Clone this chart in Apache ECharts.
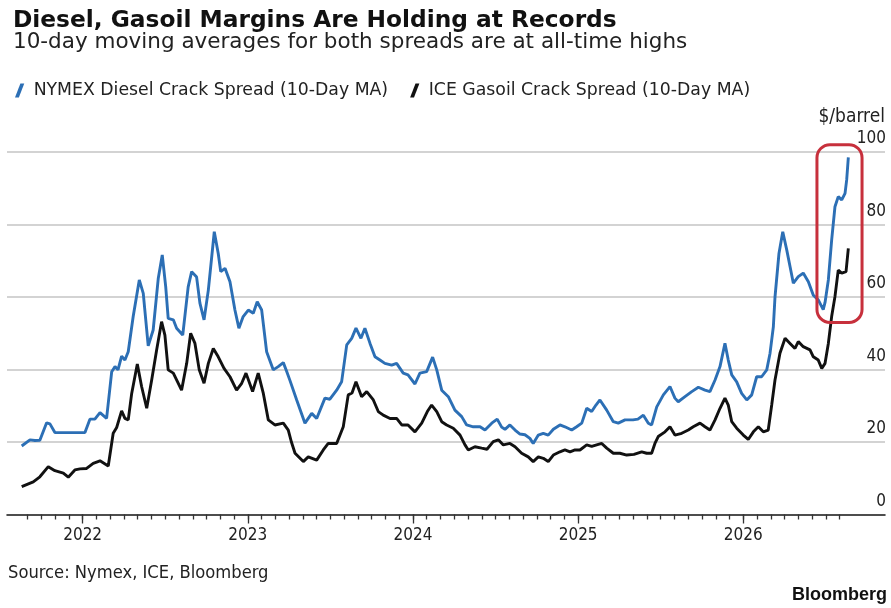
<!DOCTYPE html>
<html>
<head>
<meta charset="utf-8">
<script src="https://cdn.jsdelivr.net/npm/echarts@6/dist/echarts.min.js"></script>
<style>
html,body{margin:0;padding:0;background:#fff;}
#chart{width:891px;height:608px;}
</style>
</head>
<body>
<div id="chart"></div>
<script>
// ---- data (time as decimal year, values in $/barrel) ----
const dieselT = [2021.631,2021.681,2021.711,2021.741,2021.782,2021.802,2021.832,2021.923,2022.014,2022.044,2022.074,2022.105,2022.145,2022.176,2022.196,2022.214,2022.236,2022.256,2022.276,2022.306,2022.343,2022.367,2022.397,2022.427,2022.458,2022.482,2022.503,2022.518,2022.549,2022.569,2022.606,2022.639,2022.660,2022.690,2022.710,2022.735,2022.761,2022.797,2022.821,2022.836,2022.862,2022.892,2022.922,2022.946,2022.972,2023.003,2023.033,2023.057,2023.084,2023.114,2023.154,2023.184,2023.215,2023.235,2023.255,2023.296,2023.346,2023.387,2023.417,2023.467,2023.497,2023.538,2023.568,2023.599,2023.629,2023.655,2023.685,2023.709,2023.740,2023.770,2023.800,2023.830,2023.871,2023.901,2023.941,2023.970,2024.012,2024.042,2024.083,2024.119,2024.144,2024.174,2024.214,2024.254,2024.295,2024.325,2024.365,2024.406,2024.436,2024.477,2024.510,2024.537,2024.557,2024.587,2024.618,2024.648,2024.678,2024.708,2024.728,2024.759,2024.789,2024.819,2024.850,2024.890,2024.920,2024.961,2024.991,2025.022,2025.052,2025.082,2025.108,2025.132,2025.173,2025.213,2025.243,2025.284,2025.332,2025.362,2025.395,2025.425,2025.445,2025.476,2025.516,2025.556,2025.586,2025.606,2025.647,2025.688,2025.728,2025.768,2025.798,2025.829,2025.859,2025.889,2025.909,2025.930,2025.960,2025.990,2026.021,2026.051,2026.081,2026.111,2026.142,2026.162,2026.182,2026.192,2026.216,2026.239,2026.263,2026.283,2026.303,2026.333,2026.363,2026.394,2026.424,2026.454,2026.484,2026.495,2026.515,2026.535,2026.555,2026.575,2026.596,2026.616,2026.626,2026.636];
const dieselV = [18.9,20.6,20.4,20.5,25.3,25.0,22.6,22.6,22.6,26.3,26.3,28.1,26.5,39.4,40.8,39.9,43.7,42.6,44.9,54.6,64.7,61.0,46.5,50.9,65.2,71.6,62.8,54.1,53.7,51.4,49.5,62.8,67.0,65.5,58.3,53.7,61.9,78.0,72.0,67.0,67.9,64.2,56.4,51.4,54.6,56.4,55.5,58.7,56.4,44.9,39.9,40.8,41.9,39.5,37.0,31.6,25.2,27.9,26.5,32.1,31.8,34.3,36.6,46.8,48.6,51.4,48.6,51.4,47.2,43.5,42.6,41.7,41.2,41.7,39.0,38.5,36.0,39.0,39.4,43.4,39.9,34.3,32.5,28.8,27.0,24.7,24.2,24.2,23.3,25.2,26.3,24.1,23.5,24.7,23.3,22.2,22.0,21.0,19.6,21.9,22.4,21.9,23.5,24.7,24.2,23.3,24.2,25.2,29.3,28.4,30.2,31.6,28.8,25.6,25.2,26.1,26.1,26.3,27.4,25.2,24.7,29.7,33.0,35.3,32.1,31.1,32.5,33.9,35.1,34.3,33.9,37.1,40.8,47.2,42.6,38.5,36.6,33.4,31.6,33.0,38.0,38.0,39.9,44.5,51.8,60.0,72.0,78.0,73.0,68.4,63.8,65.6,66.6,64.2,60.5,59.2,56.5,58.5,64.7,75.7,84.9,87.7,86.8,88.6,92.3,98.5];

const gasoilT = [2021.631,2021.701,2021.741,2021.792,2021.832,2021.883,2021.913,2021.953,2021.984,2022.024,2022.064,2022.105,2022.155,2022.185,2022.206,2022.236,2022.256,2022.276,2022.297,2022.331,2022.357,2022.388,2022.418,2022.448,2022.478,2022.498,2022.518,2022.549,2022.599,2022.630,2022.654,2022.680,2022.706,2022.735,2022.761,2022.791,2022.821,2022.856,2022.892,2022.932,2022.963,2022.989,2023.029,2023.063,2023.094,2023.124,2023.164,2023.215,2023.245,2023.264,2023.286,2023.336,2023.366,2023.417,2023.457,2023.487,2023.538,2023.578,2023.608,2023.631,2023.655,2023.689,2023.720,2023.760,2023.790,2023.820,2023.861,2023.901,2023.932,2023.970,2024.012,2024.053,2024.087,2024.113,2024.144,2024.174,2024.204,2024.244,2024.285,2024.315,2024.335,2024.375,2024.416,2024.448,2024.486,2024.517,2024.547,2024.587,2024.618,2024.658,2024.698,2024.728,2024.759,2024.789,2024.819,2024.850,2024.890,2024.920,2024.951,2024.981,2025.011,2025.052,2025.082,2025.112,2025.143,2025.173,2025.213,2025.253,2025.294,2025.338,2025.385,2025.415,2025.445,2025.465,2025.485,2025.526,2025.556,2025.586,2025.627,2025.667,2025.697,2025.738,2025.768,2025.798,2025.829,2025.859,2025.889,2025.909,2025.930,2025.960,2026.000,2026.030,2026.061,2026.091,2026.121,2026.151,2026.172,2026.192,2026.222,2026.253,2026.283,2026.313,2026.333,2026.363,2026.404,2026.424,2026.454,2026.475,2026.495,2026.515,2026.535,2026.555,2026.575,2026.596,2026.622,2026.636];
const gasoilV = [7.7,9.0,10.4,13.2,12.1,11.4,10.3,12.3,12.6,12.7,14.1,14.8,13.4,22.4,24.0,28.6,26.5,26.1,33.4,41.5,35.3,29.3,37.1,45.4,53.2,49.5,39.9,39.0,34.3,41.7,50.0,47.2,39.9,36.2,41.7,45.8,43.5,40.3,38.0,34.3,36.2,39.0,33.9,39.0,33.4,26.1,24.7,25.2,23.3,20.0,16.9,14.6,15.9,15.0,17.8,19.6,19.6,24.2,33.0,33.5,36.6,32.5,33.9,31.6,28.4,27.4,26.5,26.5,24.7,24.7,22.8,25.2,28.4,30.2,28.4,25.6,24.7,23.8,21.9,19.2,17.8,18.7,18.3,18.0,20.1,20.6,19.2,19.6,18.7,16.9,15.9,14.6,15.9,15.5,14.6,16.4,17.3,17.8,17.3,17.8,17.8,19.2,18.8,19.2,19.6,18.3,16.9,16.9,16.4,16.6,17.3,16.9,16.9,19.6,21.5,22.8,24.2,21.9,22.4,23.3,24.2,25.2,24.2,23.3,26.1,29.3,32.1,30.2,25.6,23.8,21.9,20.7,22.8,24.2,22.8,23.3,30.2,37.1,44.5,48.6,47.2,45.8,47.7,46.3,45.4,43.5,42.6,40.3,41.7,47.2,54.6,60.1,67.4,66.6,67.0,73.4];

const seriesNames = ['NYMEX Diesel Crack Spread (10-Day MA)', 'ICE Gasoil Crack Spread (10-Day MA)'];
const yearLabels = ['2022', '2023', '2024', '2025', '2026'];
const yTicks = [0, 20, 40, 60, 80, 100];
const highlightT = [2026.446, 2026.719];   // annotation box, time range
const highlightV = [53, 102];              // annotation box, value range

// ---- helpers ----
const zip = (t, v) => t.map((x, i) => [x, v[i]]);
const yearVals = yearLabels.map(Number);
const monthTicks = [];
for (let k = -4; k <= 55; k++) monthTicks.push(2022 + k / 12);

const COND = '"DejaVu Sans Condensed", "DejaVu Sans", sans-serif';
const BLUE = '#2c6fb5';
const BLACK = '#111111';
const SLASH = 'path://M0,13 L3.6,13 L8.6,0 L5,0 Z';

const chart = echarts.init(document.getElementById('chart'), null, {renderer: 'canvas'});
const xMin = 2021.542, xMax = 2026.858;

chart.setOption({
  animation: false,
  backgroundColor: '#ffffff',
  title: [
    { text: 'Diesel, Gasoil Margins Are Holding at Records', left: 8, top: 4,
      textStyle: { fontFamily: 'DejaVu Sans', fontWeight: 'bold', fontSize: 23.3, color: '#111', lineHeight: 24 } },
    { text: '10-day moving averages for both spreads are at all-time highs', left: 8, top: 26,
      textStyle: { fontFamily: 'DejaVu Sans', fontWeight: 'normal', fontSize: 21.5, color: '#222', lineHeight: 22 } }
  ],
  legend: {
    left: 10, top: 77, itemWidth: 18, itemHeight: 14, itemGap: 22,
    textStyle: { fontFamily: 'DejaVu Sans', fontSize: 17.3, color: '#222' },
    data: [
      { name: seriesNames[0], icon: SLASH, itemStyle: { color: BLUE } },
      { name: seriesNames[1], icon: SLASH, itemStyle: { color: BLACK } }
    ]
  },
  grid: { left: 7, right: 6, top: 152, bottom: 93.5, containLabel: false },
  xAxis: [
    { type: 'value', min: xMin, max: xMax, position: 'bottom',
      axisLine: { show: true, lineStyle: { color: '#222', width: 1.6 } },
      axisTick: { show: true, customValues: monthTicks, length: 5, lineStyle: { color: '#333', width: 1.3 } },
      axisLabel: { show: false },
      splitLine: { show: false } },
    { type: 'value', min: xMin, max: xMax, position: 'bottom',
      axisLine: { show: false },
      axisTick: { show: true, customValues: yearVals, length: 9, lineStyle: { color: '#333', width: 1.3 } },
      axisLabel: { show: true, customValues: yearVals, margin: 11.5, lineHeight: 20,
        formatter: v => yearLabels[yearVals.indexOf(Math.round(v))] || '',
        fontFamily: COND, fontSize: 17, color: '#222' },
      splitLine: { show: false } }
  ],
  yAxis: {
    type: 'value', position: 'right', min: 0, max: 100, interval: 20,
    name: '$/barrel', nameLocation: 'end', nameGap: 28,
    nameTextStyle: { fontFamily: COND, fontSize: 19, color: '#222', align: 'right', verticalAlign: 'middle' },
    axisLine: { show: false }, axisTick: { show: false },
    axisLabel: { inside: true, margin: -1, fontFamily: COND, fontSize: 17, color: '#222',
      verticalAlign: 'bottom', lineHeight: 26,
      formatter: v => yTicks.includes(v) ? String(v) : '' },
    splitLine: { show: true, lineStyle: { color: '#c4c4c4', width: 1.5 } }
  },
  series: [
    { name: seriesNames[0], type: 'line', xAxisIndex: 0, data: zip(dieselT, dieselV),
      showSymbol: false, symbol: 'none', lineStyle: { color: BLUE, width: 2.9 }, itemStyle: { color: BLUE } },
    { name: seriesNames[1], type: 'line', xAxisIndex: 0, data: zip(gasoilT, gasoilV),
      showSymbol: false, symbol: 'none', lineStyle: { color: BLACK, width: 2.9 }, itemStyle: { color: BLACK } }
  ]
});

// annotation box placed through the chart's own coordinate system
const p0 = chart.convertToPixel({ xAxisIndex: 0, yAxisIndex: 0 }, [highlightT[0], highlightV[1]]);
const p1 = chart.convertToPixel({ xAxisIndex: 0, yAxisIndex: 0 }, [highlightT[1], highlightV[0]]);

chart.setOption({
  graphic: [
    { type: 'rect', z: 100,
      shape: { x: p0[0], y: p0[1], width: p1[0] - p0[0], height: p1[1] - p0[1], r: 13 },
      style: { fill: 'none', stroke: '#c7303c', lineWidth: 3 } },
    { type: 'text', x: 8, y: 573, z: 100,
      style: { text: 'Source: Nymex, ICE, Bloomberg', font: '18.2px ' + COND, fill: '#222', textVerticalAlign: 'middle' } },
    { type: 'text', x: 887, y: 595, z: 100,
      style: { text: 'Bloomberg', font: 'bold 18px "Liberation Sans", Arial, sans-serif', fill: '#111', textAlign: 'right', textVerticalAlign: 'middle' } }
  ]
});
</script>
</body>
</html>
